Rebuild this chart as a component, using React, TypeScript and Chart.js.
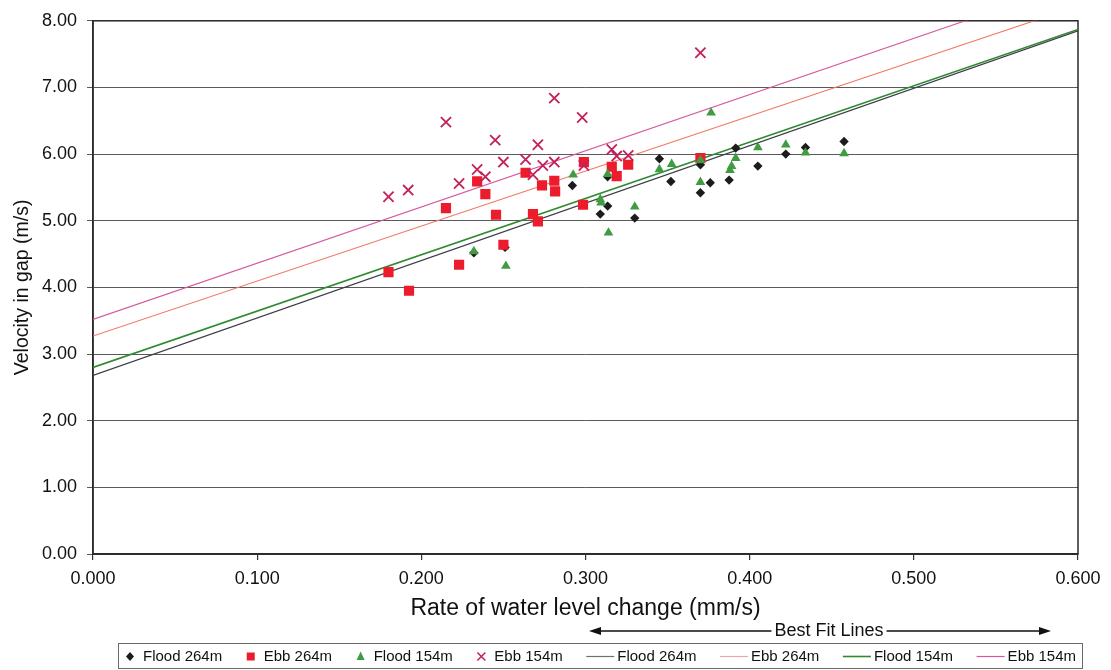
import React, { useEffect, useRef } from "react";
import { Chart, registerables } from "chart.js";

Chart.register(...registerables);

// ---- Data ----
const seriesNames = ["Flood 264m", "Ebb 264m", "Flood 154m", "Ebb 154m"];

const flood264X = [0.232, 0.251, 0.292, 0.309, 0.3135, 0.3135, 0.330, 0.345, 0.352, 0.370, 0.370, 0.376, 0.3875, 0.3915, 0.405, 0.422, 0.434, 0.4575];
const flood264Y = [4.52, 4.60, 5.53, 5.10, 5.22, 5.66, 5.04, 5.93, 5.59, 5.42, 5.84, 5.57, 5.61, 6.09, 5.82, 6.00, 6.10, 6.19];

const ebb264X = [0.180, 0.1925, 0.215, 0.223, 0.234, 0.239, 0.2455, 0.250, 0.2635, 0.268, 0.271, 0.2735, 0.281, 0.2815, 0.2985, 0.299, 0.316, 0.319, 0.326, 0.370];
const ebb264Y = [4.23, 3.95, 5.19, 4.34, 5.59, 5.40, 5.09, 4.64, 5.72, 5.10, 4.99, 5.53, 5.60, 5.44, 5.24, 5.88, 5.81, 5.67, 5.84, 5.94];

const flood154X = [0.232, 0.2515, 0.2925, 0.309, 0.3095, 0.3135, 0.314, 0.330, 0.345, 0.3525, 0.370, 0.370, 0.3765, 0.388, 0.389, 0.3915, 0.405, 0.422, 0.434, 0.4575];
const flood154Y = [4.54, 4.32, 5.69, 5.32, 5.27, 5.70, 4.82, 5.21, 5.77, 5.85, 5.58, 5.91, 6.62, 5.76, 5.82, 5.94, 6.10, 6.14, 6.02, 6.01];

const ebb154X = [0.180, 0.192, 0.215, 0.223, 0.234, 0.239, 0.245, 0.250, 0.2635, 0.268, 0.271, 0.274, 0.281, 0.281, 0.298, 0.299, 0.316, 0.319, 0.326, 0.370];
const ebb154Y = [5.36, 5.46, 6.48, 5.56, 5.77, 5.66, 6.21, 5.88, 5.92, 5.69, 6.14, 5.83, 5.88, 6.84, 6.55, 5.83, 6.07, 5.97, 5.98, 7.52];

// Best-fit lines: end points read at x = 0 and x = 0.6
const fitX = [0, 0.6];
const flood264FitY = [2.68, 7.85];
const ebb264FitY = [3.27, 8.22];
const flood154FitY = [2.8, 7.87];
const ebb154FitY = [3.52, 8.58];

const xTickValues = [0, 0.1, 0.2, 0.3, 0.4, 0.5, 0.6];
const yTickValues = [0, 1, 2, 3, 4, 5, 6, 7, 8];

const xTitle = "Rate of water level change (mm/s)";
const yTitle = "Velocity in gap (m/s)";
const bestFitLabel = "Best Fit Lines";

// ---- Styling ----
const FONT = "'Liberation Sans', Arial, Helvetica, sans-serif";
const C_FLOOD264 = "#1c1c1c";
const C_EBB264 = "#ec1c2c";
const C_FLOOD154 = "#3f9c42";
const C_EBB154 = "#c2205c";
const C_FLOOD264_LINE = "#3c3c48";
const C_EBB264_LINE = "#ee7a66";
const C_FLOOD154_LINE = "#2f8a30";
const C_EBB154_LINE = "#d45aa0";

const toPts = (xs: number[], ys: number[]) => xs.map((x, i) => ({ x, y: ys[i] }));

type LegendItem = { label: string; kind: "point" | "line"; style?: string; color: string };
const legendItems: LegendItem[] = [
  { label: seriesNames[0], kind: "point", style: "diamond", color: C_FLOOD264 },
  { label: seriesNames[1], kind: "point", style: "square", color: C_EBB264 },
  { label: seriesNames[2], kind: "point", style: "triangle", color: C_FLOOD154 },
  { label: seriesNames[3], kind: "point", style: "cross", color: C_EBB154 },
  { label: seriesNames[0], kind: "line", color: "#707070" },
  { label: seriesNames[1], kind: "line", color: "#e8a8b0" },
  { label: seriesNames[2], kind: "line", color: C_FLOOD154_LINE },
  { label: seriesNames[3], kind: "line", color: C_EBB154_LINE },
];

function drawMarker(ctx: CanvasRenderingContext2D, style: string, cx: number, cy: number, color: string) {
  ctx.save();
  ctx.fillStyle = color;
  ctx.strokeStyle = color;
  ctx.beginPath();
  if (style === "diamond") {
    ctx.moveTo(cx - 4, cy);
    ctx.lineTo(cx, cy - 4.5);
    ctx.lineTo(cx + 4, cy);
    ctx.lineTo(cx, cy + 4.5);
    ctx.closePath();
    ctx.fill();
  } else if (style === "square") {
    ctx.rect(cx - 4, cy - 4, 8, 8);
    ctx.fill();
  } else if (style === "triangle") {
    ctx.moveTo(cx, cy - 5);
    ctx.lineTo(cx + 4, cy + 3.5);
    ctx.lineTo(cx - 4, cy + 3.5);
    ctx.closePath();
    ctx.fill();
  } else {
    ctx.lineWidth = 1.5;
    ctx.moveTo(cx - 4, cy - 4);
    ctx.lineTo(cx + 4, cy + 4);
    ctx.moveTo(cx + 4, cy - 4);
    ctx.lineTo(cx - 4, cy + 4);
    ctx.stroke();
  }
  ctx.restore();
}

const decorPlugin = {
  id: "decor",
  beforeDatasetsDraw(chart: any) {
    const { ctx, chartArea: a } = chart;
    ctx.save();
    ctx.strokeStyle = "#2a2a2a";
    ctx.lineWidth = 1.5;
    ctx.strokeRect(a.left, a.top, a.right - a.left, a.bottom - a.top);
    ctx.restore();
  },
  afterDraw(chart: any) {
    const ctx: CanvasRenderingContext2D = chart.ctx;
    ctx.save();
    // "Best Fit Lines" annotation with arrows
    ctx.font = `18px ${FONT}`;
    ctx.fillStyle = "#111";
    ctx.strokeStyle = "#111";
    ctx.textBaseline = "middle";
    ctx.textAlign = "center";
    const ay = 631;
    const tcx = 829;
    ctx.fillText(bestFitLabel, tcx, ay);
    const tw = ctx.measureText(bestFitLabel).width;
    ctx.lineWidth = 1.3;
    ctx.beginPath();
    ctx.moveTo(598, ay);
    ctx.lineTo(tcx - tw / 2 - 3, ay);
    ctx.moveTo(tcx + tw / 2 + 3, ay);
    ctx.lineTo(1042, ay);
    ctx.stroke();
    ctx.beginPath();
    ctx.moveTo(589, ay);
    ctx.lineTo(601, ay - 4);
    ctx.lineTo(601, ay + 4);
    ctx.closePath();
    ctx.fill();
    ctx.beginPath();
    ctx.moveTo(1051, ay);
    ctx.lineTo(1039, ay - 4);
    ctx.lineTo(1039, ay + 4);
    ctx.closePath();
    ctx.fill();

    // Legend box
    const bx = 118, by = 643, bw = 964, bh = 25;
    ctx.strokeStyle = "#6a6a6a";
    ctx.lineWidth = 1;
    ctx.strokeRect(bx + 0.5, by + 0.5, bw, bh);
    ctx.font = `15px ${FONT}`;
    ctx.textAlign = "left";
    const cy = by + bh / 2 + 1;
    const widths = legendItems.map((it) => {
      const t = ctx.measureText(it.label).width;
      return it.kind === "point" ? 10 + 8 + t : 28 + 3 + t;
    });
    const startX = 125;
    const endX = 1076;
    const total = widths.reduce((s, w) => s + w, 0);
    const gap = (endX - startX - total) / (legendItems.length - 1);
    let x = startX;
    legendItems.forEach((it, i) => {
      if (it.kind === "point") {
        drawMarker(ctx, it.style!, x + 5, cy, it.color);
        ctx.fillStyle = "#111";
        ctx.fillText(it.label, x + 18, cy);
      } else {
        ctx.strokeStyle = it.color;
        ctx.lineWidth = it.label === seriesNames[2] ? 1.6 : 1.2;
        ctx.beginPath();
        ctx.moveTo(x, cy);
        ctx.lineTo(x + 28, cy);
        ctx.stroke();
        ctx.fillStyle = "#111";
        ctx.fillText(it.label, x + 31, cy);
      }
      x += widths[i] + gap;
    });
    ctx.restore();
  },
};

export default function App() {
  const ref = useRef<HTMLCanvasElement>(null);

  useEffect(() => {
    if (!ref.current) return;
    const chart = new Chart(ref.current, {
      type: "scatter",
      data: {
        datasets: [
          {
            label: seriesNames[0],
            data: toPts(flood264X, flood264Y),
            pointStyle: "rectRot",
            pointRadius: 4.7,
            backgroundColor: C_FLOOD264,
            borderColor: C_FLOOD264,
            borderWidth: 0,
            order: 4,
          },
          {
            label: seriesNames[1],
            data: toPts(ebb264X, ebb264Y),
            pointStyle: "rect",
            pointRadius: 7.2,
            backgroundColor: C_EBB264,
            borderColor: C_EBB264,
            borderWidth: 0,
            order: 3,
          },
          {
            label: seriesNames[2],
            data: toPts(flood154X, flood154Y),
            pointStyle: "triangle",
            pointRadius: 5.6,
            backgroundColor: C_FLOOD154,
            borderColor: C_FLOOD154,
            borderWidth: 0,
            order: 2,
          },
          {
            label: seriesNames[3],
            data: toPts(ebb154X, ebb154Y),
            pointStyle: "crossRot",
            pointRadius: 7.2,
            backgroundColor: C_EBB154,
            borderColor: C_EBB154,
            borderWidth: 1.8,
            order: 1,
          },
          {
            label: seriesNames[0] + " fit",
            data: toPts(fitX, flood264FitY),
            showLine: true,
            pointRadius: 0,
            borderColor: C_FLOOD264_LINE,
            borderWidth: 1.1,
            order: 10,
          },
          {
            label: seriesNames[1] + " fit",
            data: toPts(fitX, ebb264FitY),
            showLine: true,
            pointRadius: 0,
            borderColor: C_EBB264_LINE,
            borderWidth: 1.1,
            order: 10,
          },
          {
            label: seriesNames[2] + " fit",
            data: toPts(fitX, flood154FitY),
            showLine: true,
            pointRadius: 0,
            borderColor: C_FLOOD154_LINE,
            borderWidth: 1.6,
            order: 10,
          },
          {
            label: seriesNames[3] + " fit",
            data: toPts(fitX, ebb154FitY),
            showLine: true,
            pointRadius: 0,
            borderColor: C_EBB154_LINE,
            borderWidth: 1.1,
            order: 10,
          },
        ],
      },
      options: {
        responsive: false,
        animation: false,
        events: [],
        layout: { padding: { left: 0, right: 33, top: 17, bottom: 48 } },
        plugins: {
          legend: { display: false },
          tooltip: { enabled: false },
        },
        scales: {
          x: {
            type: "linear",
            min: 0,
            max: 0.6,
            afterFit: (s: any) => {
              s.height = 68;
            },
            afterBuildTicks: (s: any) => {
              s.ticks = xTickValues.map((v) => ({ value: v }));
            },
            ticks: {
              padding: 8,
              color: "#111",
              font: { family: FONT, size: 18 },
              callback: (v: any) => Number(v).toFixed(3),
            },
            grid: {
              drawOnChartArea: false,
              drawTicks: true,
              tickLength: 6,
              color: "#333",
              lineWidth: 1.2,
            },
            border: { display: true, color: "#2a2a2a", width: 1.5 },
            title: {
              display: true,
              text: xTitle,
              color: "#111",
              font: { family: FONT, size: 23 },
              padding: { top: 0, bottom: 0 },
            },
          },
          y: {
            type: "linear",
            min: 0,
            max: 8,
            afterFit: (s: any) => {
              s.width = 93;
            },
            afterBuildTicks: (s: any) => {
              s.ticks = yTickValues.map((v) => ({ value: v }));
            },
            ticks: {
              padding: 10,
              color: "#111",
              font: { family: FONT, size: 18 },
              callback: (v: any) => Number(v).toFixed(2),
            },
            grid: {
              drawOnChartArea: true,
              drawTicks: true,
              tickLength: 6,
              color: "#5a5a5a",
              lineWidth: 1,
            },
            border: { display: true, color: "#2a2a2a", width: 1.5 },
            title: {
              display: true,
              text: yTitle,
              color: "#111",
              font: { family: FONT, size: 19.5 },
              padding: { top: 11, bottom: 0 },
            },
          },
        },
      },
      plugins: [decorPlugin],
    } as any);
    return () => chart.destroy();
  }, []);

  return (
    <div style={{ position: "absolute", left: 0, top: 0, width: 1111, height: 670, background: "#fff" }}>
      <canvas ref={ref} width={1111} height={670} style={{ display: "block" }} />
    </div>
  );
}
